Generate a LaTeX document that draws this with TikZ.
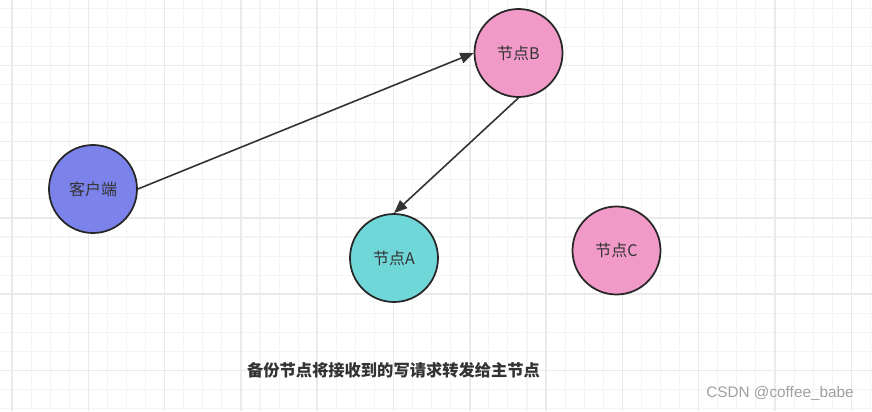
\documentclass[tikz,border=0pt]{standalone}
\usepackage{fontspec}
\setmainfont{Noto Sans CJK SC}
\newfontfamily\wmfont{Liberation Sans}
\usetikzlibrary{arrows.meta}
\definecolor{gridminor}{HTML}{F4F4F4}
\definecolor{gridmajor}{HTML}{EAEAEA}
\definecolor{clientblue}{HTML}{7B83EB}
\definecolor{nodepink}{HTML}{F19AC8}
\definecolor{nodeteal}{HTML}{70D7D9}
\definecolor{ink}{HTML}{262626}
\definecolor{arrowink}{HTML}{333333}
\definecolor{txt}{HTML}{333333}
\definecolor{wmgray}{HTML}{A0A0A0}
\tikzset{
  circnode/.style={circle, draw=ink, line width=1.3pt, minimum size=66pt, inner sep=0pt, text=txt, font=\fontsize{12}{14}\selectfont},
  conn/.style={draw=arrowink, line width=1.2pt, -{Triangle[length=10pt,width=8pt]}},
  minorline/.style={draw=gridminor, line width=0.8pt},
  majorline/.style={draw=gridmajor, line width=1.1pt}
}
\begin{document}
\begin{tikzpicture}[x=0.75pt,y=-0.75pt]
\useasboundingbox (0,0) rectangle (872,411);
\fill[white] (0,0) rectangle (872,411);
% minor grid
\foreach \k in {0,...,45} {
  \pgfmathsetmacro\gx{12+19.075*\k}
  \draw[minorline] (\gx,0) -- (\gx,411);
}
\foreach \k in {1,...,22} {
  \pgfmathsetmacro\gy{-11+19.075*\k}
  \draw[minorline] (0,\gy) -- (872,\gy);
}
% major grid
\foreach \k in {0,...,11} {
  \pgfmathsetmacro\gx{12+76.3*\k}
  \draw[majorline] (\gx,0) -- (\gx,411);
}
\foreach \k in {1,...,5} {
  \pgfmathsetmacro\gy{-11+76.3*\k}
  \draw[majorline] (0,\gy) -- (872,\gy);
}
% nodes
\node[circnode, fill=clientblue] (client) at (93,189) {客户端};
\node[circnode, fill=nodepink] (nb) at (518.5,53) {节点B};
\node[circnode, fill=nodeteal] (na) at (394,258) {节点A};
\node[circnode, fill=nodepink] (nc) at (616.5,250.5) {节点C};
% connectors
\draw[conn] (client.east) -- (nb.west);
\draw[conn] (nb.south) -- (na.north);
% texts
\node[text=txt, font=\fontsize{12.2}{14}\selectfont\bfseries] (caption) at (393.5,370) {备份节点将接收到的写请求转发给主节点};
\node[text=wmgray, font=\wmfont\fontsize{11.5}{13}\selectfont] (watermark) at (780,393) {CSDN @coffee\_babe};
\end{tikzpicture}
\end{document}
